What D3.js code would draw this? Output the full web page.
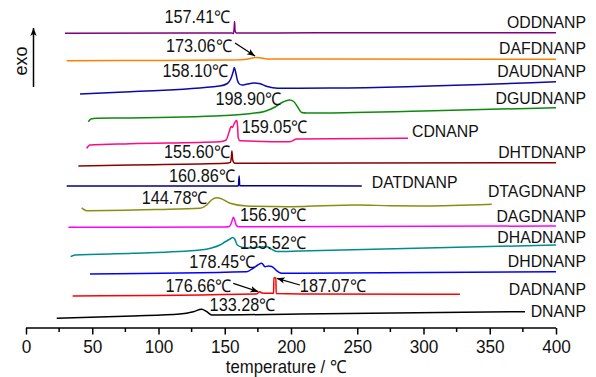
<!DOCTYPE html>
<html>
<head>
<meta charset="utf-8">
<script src="https://cdn.jsdelivr.net/npm/d3@7"></script>
<style>
  body { margin: 0; background: #fff; }
  svg text { font-family: "Liberation Sans", Arial, sans-serif; fill: #111; }
</style>
</head>
<body>
<svg id="chart"></svg>
<script>
// DSC traces, [temperature in degC, signal in arbitrary stacked units]
const ODDNANP = [[29.4, 294.8], [120, 295], [155.5, 295], [156.6, 294.4], [157.1, 300], [157.41, 306.5], [157.8, 297], [158.8, 295], [220, 295.2], [400, 295.2]];
const DAFDNANP = [[30.7, 267.3], [100, 267.6], [150, 268], [165, 268.6], [170, 269.8], [173, 270.5], [176, 270.3], [182, 269], [220, 268.9], [400, 268.8]];
const DAUDNANP = [[40.8, 234], [78.5, 236.3], [146, 242], [152, 244.5], [154.5, 249], [156.3, 256], [157.2, 260.5], [158.2, 256], [159.5, 248], [161, 244], [163, 243], [167, 244], [172, 245], [176, 244.5], [182, 241.5], [190, 239.8], [230, 240], [400, 246.3]];
const DGUDNANP = [[47, 206.3], [49, 209], [53, 209.8], [78.5, 210], [150, 212.5], [170, 214.5], [180, 216.5], [188, 221], [194, 226], [198.9, 228], [202, 226.5], [205, 221], [208, 215.5], [212, 215], [300, 217], [400, 220.3]];
const CDNANP = [[45.8, 179.7], [48.3, 183], [78.5, 184.3], [146.4, 186.3], [151, 188], [153.5, 197], [154.8, 201.5], [155.8, 200.5], [157, 204], [159, 207.5], [159.6, 203], [160.2, 190], [161.5, 187.3], [199, 186.3], [204.5, 189], [288.3, 189.7]];
const DHTDNANP = [[39.5, 162], [78.5, 163], [150.9, 164.7], [154.3, 165.6], [155, 171], [155.4, 177], [156, 168], [157.5, 164.7], [250, 165], [400, 165.3]];
const DATDNANP = [[30.7, 142], [160.3, 142], [160.86, 152], [161.3, 142.3], [253.4, 142]];
const DTAGDNANP = [[42, 120.3], [45.8, 117.3], [100, 118.5], [131.3, 119.7], [136.4, 123], [140, 128], [143.9, 130.3], [147, 129.5], [154, 124.7], [166.6, 122], [199, 121.3], [249.6, 123], [275, 122.3], [299.6, 122], [351.5, 123.7]];
const DAGDNANP = [[32, 100.7], [150, 101], [153.5, 101.5], [155, 105], [156.5, 110.7], [157.5, 108], [158.8, 102.5], [160.5, 101.2], [400, 102]];
const DHADNANP = [[33.7, 71.3], [37, 73], [80.8, 74.7], [131.3, 78], [140, 80], [146.4, 83], [150, 86], [154, 89], [156, 90.5], [157.5, 89], [159.5, 83], [163.8, 80.5], [166.6, 79.7], [172, 80.5], [181.7, 81.3], [185, 79], [189.2, 76.5], [206.8, 77], [400, 83]];
const DHDNANP = [[48.3, 54], [166.6, 56.3], [171.3, 59.7], [175, 63], [177.9, 64.7], [180.4, 61.3], [183, 62], [185.4, 61.5], [190.2, 56.3], [193, 54.7], [206.8, 54.7], [400, 56.3]];
const DADNANP = [[35.2, 32], [174.1, 34], [176.6, 36.3], [178, 35], [181.7, 34.7], [186.9, 34.7], [187.07, 50.3], [188.6, 50], [188.8, 34.5], [206.8, 34], [327.5, 33.7]];
const DNANP = [[23.2, 9.7], [80.8, 12], [116.2, 14], [126.3, 16.3], [132.6, 18.7], [136.4, 16.3], [140.2, 13], [206.8, 14], [376.6, 16.3]];

const seriesNames = ['ODDNANP', 'DAFDNANP', 'DAUDNANP', 'DGUDNANP', 'CDNANP', 'DHTDNANP', 'DATDNANP',
  'DTAGDNANP', 'DAGDNANP', 'DHADNANP', 'DHDNANP', 'DADNANP', 'DNANP'];
const seriesData = [ODDNANP, DAFDNANP, DAUDNANP, DGUDNANP, CDNANP, DHTDNANP, DATDNANP,
  DTAGDNANP, DAGDNANP, DHADNANP, DHDNANP, DADNANP, DNANP];

// peak annotations
const peakSeries = ['ODDNANP', 'DAFDNANP', 'DAUDNANP', 'DGUDNANP', 'CDNANP', 'DHTDNANP', 'DATDNANP',
  'DTAGDNANP', 'DAGDNANP', 'DHADNANP', 'DHDNANP', 'DADNANP', 'DADNANP', 'DNANP'];
const peakTemps = [157.41, 173.06, 158.10, 198.90, 159.05, 155.60, 160.86, 144.78, 156.90, 155.52, 178.45, 176.66, 187.07, 133.28];

const xTicks = [0, 50, 100, 150, 200, 250, 300, 350, 400];
const xMinorTicks = [25, 75, 125, 175, 225, 275, 325, 375];

// styles and label layout (kept apart from the data)
const colors = {
  ODDNANP: '#800080', DAFDNANP: '#ff8000', DAUDNANP: '#0a0aa8', DGUDNANP: '#0c8a0c',
  CDNANP: '#ff0a80', DHTDNANP: '#8c0000', DATDNANP: '#000088', DTAGDNANP: '#8c8c10',
  DAGDNANP: '#ff00ff', DHADNANP: '#008c8c', DHDNANP: '#0000ff', DADNANP: '#ff0000', DNANP: '#000000'
};
// [anchor, dy from curve end]
const nameLayout = {
  ODDNANP: ['end', -5], DAFDNANP: ['end', -5], DAUDNANP: ['end', -5], DGUDNANP: ['end', -3.4],
  CDNANP: ['start', -1.6], DHTDNANP: ['end', -4.4], DATDNANP: ['start', 2.3], DTAGDNANP: ['end', -7.6],
  DAGDNANP: ['end', -4.3], DHADNANP: ['end', -1.7], DHDNANP: ['end', -5], DADNANP: ['end', 0.7], DNANP: ['end', 5.6]
};
// [anchor, dx, dy, arrow [sx, sy, ex, ey] or null] relative to the peak point
const peakLayout = [
  ['end', -4, 1, null], ['end', -23.3, -5.5, [-20.3, -14.5, -0.3, -1.5]], ['end', -7, 9, null],
  ['end', -8, 5, null], ['start', 5, 12, null], ['end', -2, 7, null], ['end', -4, 6, null],
  ['end', -10, 6, null], ['start', 6, 4, null], ['start', 8, 11, null], ['end', -7, 5, null],
  ['end', -28.4, 0, [-26.8, -8.4, -1.8, 0]], ['start', 26, 14, [26, 7.3, 3, 0.6]], ['start', 7, 2, null]
];

const W = 596, H = 377;
const svg = d3.select('#chart').attr('width', W).attr('height', H);
const x = d3.scaleLinear().domain([0, 400]).range([26, 556]);
const y = d3.scaleLinear().domain([0, 300]).range([328, 28]);
const SX = 0.93; // the original lettering is slightly condensed

const addText = (g, px, py, str, anchor, size) => g.append('text')
  .attr('transform', `translate(${px},${py}) scale(${SX},1)`)
  .attr('text-anchor', anchor)
  .style('font-size', `${size}px`)
  .text(str);

svg.append('defs').append('marker')
  .attr('id', 'head')
  .attr('viewBox', '0 0 10 10')
  .attr('refX', 10).attr('refY', 5)
  .attr('markerWidth', 8).attr('markerHeight', 8)
  .attr('markerUnits', 'userSpaceOnUse')
  .attr('orient', 'auto')
  .append('path').attr('d', 'M0,1 L10,5 L0,9 L2.5,5 Z').attr('fill', '#000');

// curves
const line = d3.line().x(d => x(d[0])).y(d => y(d[1])).curve(d3.curveMonotoneX);
const gC = svg.append('g').attr('class', 'curves');
seriesNames.forEach((n, i) => {
  gC.append('path')
    .datum(seriesData[i])
    .attr('d', line)
    .attr('fill', 'none')
    .attr('stroke', colors[n])
    .attr('stroke-width', 1.5)
    .attr('stroke-linejoin', 'round');
});

// series names
const gN = svg.append('g').attr('class', 'names');
seriesNames.forEach((n, i) => {
  const d = seriesData[i];
  const last = d[d.length - 1];
  const [anchor, dy] = nameLayout[n];
  const px = anchor === 'end' ? W - 10 : x(last[0]) + (n === 'CDNANP' ? 4 : 10);
  addText(gN, px, y(last[1]) + dy, n, anchor, 17);
});

// peak labels
const gP = svg.append('g').attr('class', 'peaks');
peakTemps.forEach((t, i) => {
  const d = seriesData[seriesNames.indexOf(peakSeries[i])];
  const near = d.filter(p => Math.abs(p[0] - t) <= 2);
  const vmax = d3.max(near, p => p[1]);
  const px = x(t), py = y(vmax);
  const [anchor, dx, dy, arrow] = peakLayout[i];
  addText(gP, px + dx, py + dy, `${t.toFixed(2)}℃`, anchor, 17.5);
  if (arrow) {
    gP.append('line')
      .attr('x1', px + arrow[0]).attr('y1', py + arrow[1])
      .attr('x2', px + arrow[2]).attr('y2', py + arrow[3])
      .attr('stroke', '#000').attr('stroke-width', 1.3)
      .attr('marker-end', 'url(#head)');
  }
});

// x axis
const gX = svg.append('g').attr('transform', `translate(0,${y(0)})`);
gX.call(d3.axisBottom(x).tickValues(xTicks).tickSize(6.5).tickPadding(5));
gX.selectAll('.tick text')
  .attr('transform', `scale(${SX},1)`)
  .style('font-size', '18.5px')
  .attr('fill', '#111');
gX.append('g').selectAll('line').data(xMinorTicks).join('line')
  .attr('x1', d => x(d)).attr('x2', d => x(d))
  .attr('y1', 0).attr('y2', 4)
  .attr('stroke', '#000').attr('stroke-width', 1.5);
gX.select('.domain').attr('d', `M${x(0)},0H${x(400)}`).attr('stroke-width', 1.5);
gX.selectAll('.tick line').attr('stroke-width', 1.5);
addText(svg, 286, 373, 'temperature / ℃', 'middle', 18);

// exo arrow
svg.append('line')
  .attr('x1', 33.5).attr('x2', 33.5).attr('y1', 87).attr('y2', 28)
  .attr('stroke', '#000').attr('stroke-width', 1.5)
  .attr('marker-end', 'url(#head)');
svg.append('text')
  .attr('transform', 'translate(27,61) rotate(-90)')
  .attr('text-anchor', 'middle')
  .style('font-size', '18px')
  .text('exo');
</script>
</body>
</html>
